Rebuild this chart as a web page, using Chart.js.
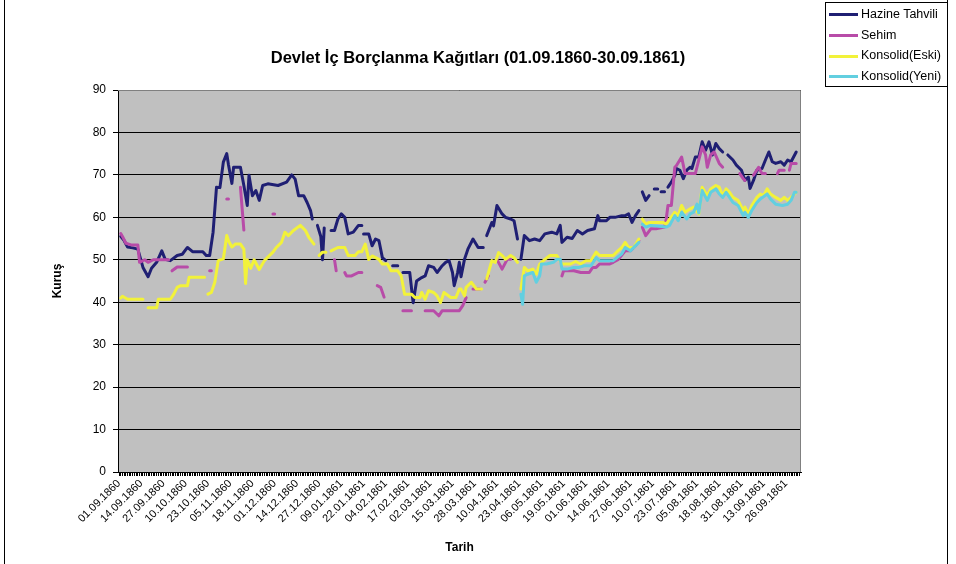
<!DOCTYPE html>
<html>
<head>
<meta charset="utf-8">
<script src="https://cdn.jsdelivr.net/npm/chart.js@4"></script>
<style>
  body { margin: 0; background: #fff; font-family: "Liberation Sans", Arial, sans-serif; }
  #wrap { position: relative; width: 956px; height: 564px; overflow: hidden; }
  #frame { position: absolute; left: 4px; top: -2px; width: 942px; height: 570px;
           border-left: 1px solid #000; border-right: 1px solid #000; }
  #title { position: absolute; left: 0; width: 956px; top: 48px; text-align: center;
           font-weight: bold; font-size: 16.5px; color: #000; }
  #legend { position: absolute; left: 825px; top: 2px; width: 121px; height: 83px;
            border: 1px solid #000; background: #fff; font-size: 12.5px; }
  #legend div { position: absolute; left: 3px; height: 16px; line-height: 16px; white-space: nowrap; }
  #legend span { display: inline-block; width: 29px; height: 3px; vertical-align: middle; margin-right: 3px; }
</style>
</head>
<body>
<div id="wrap">
  <canvas id="chart" width="956" height="564"></canvas>
  <div id="frame"></div>
  <div id="title">Devlet İç Borçlanma Kağıtları (01.09.1860-30.09.1861)</div>
  <div id="legend"></div>
</div>
<script>
// Series names and colours
const seriesNames = ["Hazine Tahvili", "Sehim", "Konsolid(Eski)", "Konsolid(Yeni)"];
const seriesColors = ["#1f1f73", "#b84ca8", "#f2f23a", "#62cfe0"];

// x tick labels (every 13 days, day 0 = 01.09.1860)
const tickDays = [0, 13, 26, 39, 52, 65, 78, 91, 104, 117, 130, 143, 156, 169, 182, 195,
                  208, 221, 234, 247, 260, 273, 286, 299, 312, 325, 338, 351, 364, 377, 390];
const tickLabels = ["01.09.1860", "14.09.1860", "27.09.1860", "10.10.1860", "23.10.1860",
  "05.11.1860", "18.11.1860", "01.12.1860", "14.12.1860", "27.12.1860", "09.01.1861",
  "22.01.1861", "04.02.1861", "17.02.1861", "02.03.1861", "15.03.1861", "28.03.1861",
  "10.04.1861", "23.04.1861", "06.05.1861", "19.05.1861", "01.06.1861", "14.06.1861",
  "27.06.1861", "10.07.1861", "23.07.1861", "05.08.1861", "18.08.1861", "31.08.1861",
  "13.09.1861", "26.09.1861"];
const yTicks = [0, 10, 20, 30, 40, 50, 60, 70, 80, 90];

// [day, kuruş]; null marks a gap in the series
const hazine = [
  [1,55.5],[3,54.5],[5,53],[8,52.8],[11,52.5],[14,48.2],[17,46],[19,48],[22,49.4],[25,52.1],[27,50.1],
  [30,49.8],[34,51],[37,51.3],[40,52.9],[43,51.9],[49,51.9],[51,51],[53,51],[55,56.5],[57,67.1],[59,67],
  [61,73],[63,75],[64,72.4],[66,68],[67,71.8],[71,71.8],[73,67.5],[75,62.8],[76,69.9],[78,65.1],[80,66.3],
  [82,64],[84,67.5],[87,67.9],[93,67.5],[98,68.3],[101,70],[103,69],[105,65.1],[108,65.1],[110,63.5],
  [112,61.6],[113,59.6],[114,null],
  [116,58.1],[118,55.5],[119,50],[120,57.5],[121,null],
  [124,56.9],[126,56.9],[128,59.6],[130,60.8],[132,60],[134,56.1],[137,56.5],[140,58.1],[142,58.1],[142.5,null],
  [143,56.1],[146,56.1],[148,53.3],[150,54.9],[152,54.5],[154,50.5],[156,49.8],[157,null],
  [160,48.6],[163,48.6],[164,null],
  [166,47],[170,47],[172,39.9],[174,45],[177,45.8],[179,46.2],[181,48.6],[184,48.2],[186,47],[189,48.6],
  [191,49.4],[193,49.8],[195,47],[196,43.9],[198,47],[199,49.4],[200,46],[202,50.1],[204,52.5],[207,54.9],
  [210,52.9],[213,52.9],[214,null],
  [215,55.7],[218,58.8],[219,58],[221,62.8],[224,60.8],[226,60],[229,59.6],[231,59.2],[233,54.9],[234,null],
  [235,50.1],[237,55.7],[240,54.5],[243,54.9],[246,54.5],[249,56.1],[253,56.5],[256,56.1],[258,58.1],
  [259,54.1],[262,55.3],[265,55],[268,56.9],[271,56.1],[274,56.9],[278,57.3],[280,60.4],[281,59.2],
  [285,59.2],[287,60],[290,60],[294,60.4],[296,60.4],[298,60.8],[300,58.8],[302,60.4],[304,61.6],[305,null],
  [306,66],[308,64],[310,65.1],[311,null],
  [313,66.7],[315,66.7],[316,null],
  [317,66],[319,66],[320,null],
  [321,67.1],[323,68.3],[325,69.9],[326,71.5],[328,71.1],[330,69.1],[332,71.1],[334,71.8],[335,71.5],
  [337,74.2],[339,74.2],[341,77.8],[343,75.8],[345,77.8],[347,74.7],[349,77.4],[351,76.2],[353,75.4],[354,null],
  [356,74.7],[359,73.5],[361,72.3],[364,71.1],[366,68.7],[368,69.5],[369,66.8],[371,68.7],[373,71.1],
  [376,71.5],[378,73.5],[380,75.4],[382,73.1],[384,72.7],[387,73.1],[389,72.3],[391,73.5],[393,73.1],[396,75.4]
];

const sehim = [
  [1,56.2],[2,55.5],[4,53.9],[7,53.5],[11,53.5],[12,49.4],[15,50],[17,49.4],[20,50],[29,50],[30,null],
  [31,47.4],[34,48.3],[40,48.3],[41,null],
  [53,47.4],[54,47.4],[55,null],
  [63,64.3],[64,64.3],[65,null],
  [71,67.1],[73,57],[74,null],
  [90,60.8],[91,60.8],[92,null],
  [126,50],[127,47.4],[128,null],
  [132,47],[133,46.2],[136,46.2],[140,47],[142,47],[143,null],
  [151,43.9],[153,43.5],[155,41.2],[156,null],
  [166,38],[171,38],[172,null],
  [179,38],[184,38],[187,36.8],[189,38],[193,38],[199,38],[201,39.2],[203,41.1],[204,null],
  [207,43.1],[211,43.1],[212,null],
  [214,44.7],[216,46.2],[217,null],
  [221,50.1],[224,47.8],[227,50.1],[229,50.1],[230,null],
  [259,46.2],[260,47.4],[266,47.4],[270,47],[275,47],[277,48.2],[279,48.2],[281,49],[287,49],[289,49.4],
  [292,50.1],[296,52.1],[299,52.1],[302,53.3],[304,54.5],[305,null],
  [306,57.7],[308,55.7],[311,57.3],[314,57.3],[319,57.7],[320,59.6],[321,62.8],[323,62.8],[325,71.8],
  [326,72.2],[329,74.2],[331,70.3],[334,70.3],[337,70.3],[341,76.6],[343,74.7],[344,71.8],[346,74.7],
  [348,75.4],[351,72.7],[353,71.8],[354,null],
  [363,70.3],[365,69.1],[366,68.7],[367,null],
  [371,69.9],[374,71.8],[376,70.3],[378,70.3],[379,null],
  [385,70.3],[386,71.1],[389,71.1],[390,null],
  [392,71.1],[393,72.7],[396,72.7]
];

const konsolidEski = [
  [1,41],[2,41.4],[5,40.7],[14,40.7],[15,null],
  [17,38.7],[22,38.7],[23,40.7],[30,40.7],[32,41.9],[34,43.5],[36,43.9],[40,43.9],[41,45.9],[50,45.9],[51,null],
  [52,41.9],[54,42.3],[56,44.7],[58,49.8],[61,50.2],[63,55.7],[64,54.5],[66,53],[68,53.7],[71,53.7],[73,52.5],
  [74,44.4],[75,50],[77,48],[79,50],[82,47.7],[85,49.8],[88,51],[90,51.8],[92,52.9],[95,54.1],[97,56.5],
  [99,55.7],[102,56.9],[106,58.1],[109,56.9],[111,55.3],[114,53.7],[115,null],
  [117,51],[119,51.8],[121,51.8],[122,null],
  [124,52.1],[128,52.9],[132,52.9],[134,51],[138,51],[140,51.9],[142,51.9],[144,53.7],[146,50.1],[148,50.9],
  [150,50.5],[152,50.1],[154,49],[157,49],[159,47.4],[163,47.4],[165,46.2],[167,41.9],[171,41.9],[173,41.1],
  [176,41.1],[177,42.3],[179,40.7],[181,42.7],[184,42.3],[186,41.5],[188,39.9],[190,42.3],[194,41.1],
  [197,41.1],[199,43.1],[200,43.1],[202,41.5],[203,43.5],[206,44.7],[209,43.1],[212,43.1],[213,null],
  [215,45.5],[218,49.8],[220,49.4],[222,51.7],[224,51],[226,50.1],[229,51],[231,50.5],[233,49.4],[234,null],
  [235,43.1],[237,48.2],[239,47.4],[242,47.8],[244,46.6],[246,49],[249,50.1],[252,51],[256,51],[259,49],
  [264,49],[267,49.6],[270,49],[273,49.8],[276,49.8],[279,51.8],[281,51],[289,51],[291,51.8],[294,52.9],
  [296,54.1],[298,52.9],[301,52.9],[304,54.9],[305,null],
  [306,59.6],[308,58.4],[310,58.8],[318,58.8],[320,58.4],[322,59.6],[325,61.2],[327,60.4],[329,62.8],
  [331,61.2],[334,62],[336,62.4],[339,60.8],[341,67.1],[344,65.1],[346,66.7],[349,67.5],[351,67.1],
  [353,65.1],[355,66.7],[357,65.9],[359,64.7],[362,64],[365,61.6],[366,62.4],[368,60.8],[370,62.8],
  [373,64.7],[375,65.5],[377,65.1],[379,66.7],[381,65.5],[384,64.7],[387,64],[389,64.7],[391,64],
  [393,64.7],[395,65.5],[396,65.9]
];

const konsolidYeni = [
  [235,41.9],[236,39.5],[237,46.2],[239,46.6],[242,47],[244,44.7],[246,46.2],[247,49],[250,49],[254,49.4],
  [256,50.1],[258,50.1],[259,47.8],[262,47.8],[266,48.2],[269,48.2],[272,48.6],[276,48.6],[279,50.5],
  [281,49.8],[289,49.8],[294,51.4],[296,52.9],[299,52.1],[304,54.1],[305,null],
  [306,58.4],[308,57.7],[311,58.1],[320,57.7],[322,58.1],[325,60.4],[327,59.2],[329,61.2],[332,59.6],
  [334,60.8],[336,61.2],[338,63.1],[339,61],[341,66.3],[344,64],[346,65.9],[349,66.7],[351,65.5],
  [353,64.7],[355,65.9],[357,64.7],[359,63.5],[362,62.8],[365,60.4],[366,61.2],[368,60],[370,61.6],
  [373,63.5],[375,64.3],[379,65.5],[381,64.3],[384,63.1],[388,62.8],[391,63.1],[393,64],[395,65.9],[396,65.9]
];

const allSeries = [hazine, sehim, konsolidEski, konsolidYeni];

// HTML legend
const legend = document.getElementById("legend");
seriesNames.forEach((name, i) => {
  const row = document.createElement("div");
  row.style.top = (3 + i * 20.7) + "px";
  row.innerHTML = `<span style="background:${seriesColors[i]}"></span>${name}`;
  legend.appendChild(row);
});

// grey plot area + border
const plotBg = {
  id: "plotBg",
  beforeDraw(chart) {
    const a = chart.chartArea, c = chart.ctx;
    c.save();
    c.fillStyle = "#c0c0c0";
    c.fillRect(a.left, a.top, a.right - a.left, a.bottom - a.top);
    c.restore();
  },
  beforeDatasetsDraw(chart) {
    const a = chart.chartArea, c = chart.ctx;
    c.save();
    c.strokeStyle = "#808080";
    c.lineWidth = 1;
    c.beginPath();
    c.moveTo(a.left, a.top + 0.5);
    c.lineTo(a.right - 0.5, a.top + 0.5);
    c.lineTo(a.right - 0.5, a.bottom);
    c.stroke();
    c.restore();
  }
};

const font = "'Liberation Sans', Arial, sans-serif";

new Chart(document.getElementById("chart"), {
  type: "line",
  data: {
    datasets: allSeries.map((s, i) => ({
      label: seriesNames[i],
      data: s.map(p => ({ x: p[0], y: p[1] })),
      borderColor: seriesColors[i],
      backgroundColor: seriesColors[i],
      borderWidth: 3,
      pointRadius: 0,
      tension: 0,
      spanGaps: false,
      borderCapStyle: "round",
      borderJoinStyle: "round",
      order: 3 - i
    }))
  },
  options: {
    responsive: false,
    animation: false,
    layout: { padding: { left: 40, top: 90, right: 155, bottom: 6 } },
    plugins: { legend: { display: false }, title: { display: false }, tooltip: { enabled: false } },
    scales: {
      x: {
        type: "linear",
        min: -0.6,
        max: 398.8,
        afterFit(scale) { scale.height = 86; },
        afterBuildTicks(scale) {
          const t = [];
          for (let d = 0; d <= 398; d++) t.push({ value: d });
          scale.ticks = t;
        },
        ticks: {
          autoSkip: false,
          minRotation: 45,
          maxRotation: 45,
          padding: 1,
          color: "#000",
          font: { family: font, size: 11 },
          callback: v => {
            const k = tickDays.indexOf(v);
            return k >= 0 ? tickLabels[k] : "";
          }
        },
        grid: { display: true, drawOnChartArea: false, color: "#000", tickLength: 4, lineWidth: 1 },
        border: { color: "#000", width: 1 },
        title: { display: true, text: "Tarih", color: "#000", font: { family: font, size: 12, weight: "bold" },
                 padding: { top: 0, bottom: 3 } }
      },
      y: {
        min: 0,
        max: 90,
        afterFit(scale) { scale.width = 78; },
        afterBuildTicks(scale) { scale.ticks = yTicks.map(v => ({ value: v })); },
        ticks: { padding: 7, color: "#000", font: { family: font, size: 12 } },
        grid: { color: "#000", lineWidth: 1, tickLength: 5 },
        border: { color: "#000", width: 1 },
        title: { display: true, text: "Kuruş", color: "#000", font: { family: font, size: 12, weight: "bold" },
                 padding: { top: 10, bottom: 0 } }
      }
    }
  },
  plugins: [plotBg]
});
</script>
</body>
</html>
